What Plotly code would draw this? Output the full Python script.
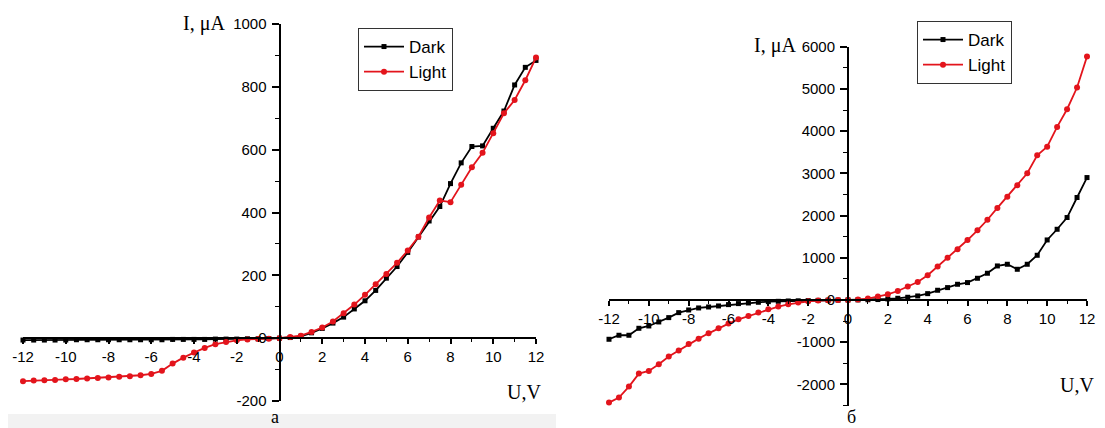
import plotly.graph_objects as go

# target picture size and the page's default body margin
W, H = 1105, 428
OFF = 8
FW, FH = W - 2 * OFF, H - OFF

# ---------------- data ----------------
voltage = [-12, -11.5, -11, -10.5, -10, -9.5, -9, -8.5, -8, -7.5, -7, -6.5, -6, -5.5, -5, -4.5,
           -4, -3.5, -3, -2.5, -2, -1.5, -1, -0.5, 0, 0.5, 1, 1.5, 2, 2.5, 3, 3.5, 4, 4.5,
           5, 5.5, 6, 6.5, 7, 7.5, 8, 8.5, 9, 9.5, 10, 10.5, 11, 11.5, 12]

a_dark = [-6, -6, -6, -6, -6, -5, -5, -5, -5, -5, -5, -5, -5, -5, -4, -4,
          -4, -4, -3, -3, -3, -2, -2, -1, 0, 2, 6, 17, 31, 48, 67, 93, 119, 152,
          191, 228, 273, 322, 373, 419, 492, 558, 610, 612, 668, 723, 806, 862, 884]
a_light = [-137, -135, -134, -133, -131, -130, -128, -127, -125, -123, -121, -118, -114, -104, -81, -62,
           -46, -31, -19, -12, -7, -4, -3, -2, 0, 4, 8, 20, 34, 53, 79, 107, 138, 172,
           204, 240, 279, 323, 384, 438, 433, 488, 544, 590, 652, 716, 758, 821, 893]

b_dark = [-931, -836, -836, -671, -616, -521, -418, -300, -237, -189, -166, -142, -110, -86, -71, -55,
          -39, -32, -24, -20, -15, -10, -6, -3, 0, 2, 5, 10, 25, 40, 64, 95, 150, 230,
          293, 372, 412, 514, 633, 806, 846, 727, 846, 1059, 1422, 1675, 1953, 2427, 2900]
b_light = [-2431, -2313, -2052, -1744, -1682, -1524, -1341, -1200, -1042, -916, -790, -671, -560, -458, -379, -299,
           -221, -157, -102, -62, -31, -15, -8, -3, 0, 10, 33, 80, 135, 213, 317, 427, 585, 790,
           1000, 1200, 1420, 1650, 1900, 2180, 2445, 2718, 3002, 3429, 3630, 4100, 4519, 5033, 5768]

x_ticks = [-12, -10, -8, -6, -4, -2, 0, 2, 4, 6, 8, 10, 12]
x_ticktext = ["-12", "-10", "-8", "-6", "-4", "-2", "0", "2", "4", "6", "8", "10", "12"]
a_yticks = [-200, 0, 200, 400, 600, 800, 1000]
a_yticktext = ["-200", "0", "200", "400", "600", "800", "1000"]
b_yticks = [-2000, -1000, 0, 1000, 2000, 3000, 4000, 5000, 6000]
b_yticktext = ["-2000", "-1000", "0", "1000", "2000", "3000", "4000", "5000", "6000"]

series_names = ["Dark", "Light"]
y_title = "I, μA"
x_title = "U,V"
captions = ["а", "б"]

# ---------------- layout helpers ----------------
RED = "#e3141c"
BLACK = "#000000"
SANS = "Liberation Sans, Arial, sans-serif"
SERIF = "Liberation Serif, Times New Roman, serif"


def px_x(p):
    return (p - OFF) / FW


def px_y(p):
    return 1 - (p - OFF) / FH


# panel geometry in page pixels (left, right / top, bottom) and ranges
panels = [
    dict(xd=(23, 536), yd=(24, 401), xr=(-12, 12), yr=(-200, 1000),
         yt=a_yticks, ytt=a_yticktext, ydm=100, dark=a_dark, light=a_light, leg=(358, 28)),
    dict(xd=(609, 1087), yd=(46.7, 405.5), xr=(-12, 12), yr=(-2500, 6000),
         yt=b_yticks, ytt=b_yticktext, ydm=500, dark=b_dark, light=b_light, leg=(917, 21)),
]

fig = go.Figure()
layout = dict(width=FW, height=FH, autosize=False, margin=dict(l=0, r=0, t=0, b=0, pad=0),
              paper_bgcolor="white", plot_bgcolor="rgba(0,0,0,0)", showlegend=True,
              template="none")

for i, p in enumerate(panels):
    n = "" if i == 0 else str(i + 1)
    xdom = [px_x(p["xd"][0]), px_x(p["xd"][1])]
    ydom = [px_y(p["yd"][1]), px_y(p["yd"][0])]
    # where the zero lines lie (axes cross at origin)
    xpos = xdom[0] + (0 - p["xr"][0]) / (p["xr"][1] - p["xr"][0]) * (xdom[1] - xdom[0])
    ypos = ydom[0] + (0 - p["yr"][0]) / (p["yr"][1] - p["yr"][0]) * (ydom[1] - ydom[0])
    leg = "legend" + n
    fig.add_trace(go.Scatter(x=voltage, y=p["dark"], name=series_names[0], mode="lines+markers",
                             line=dict(color=BLACK, width=1.8),
                             marker=dict(symbol="square", size=5, color=BLACK),
                             xaxis="x" + n, yaxis="y" + n, legend=leg, cliponaxis=False))
    fig.add_trace(go.Scatter(x=voltage, y=p["light"], name=series_names[1], mode="lines+markers",
                             line=dict(color=RED, width=1.8),
                             marker=dict(symbol="circle", size=6, color=RED),
                             xaxis="x" + n, yaxis="y" + n, legend=leg, cliponaxis=False))
    layout["xaxis" + n] = dict(domain=xdom, range=list(p["xr"]), anchor="free", position=ypos,
                               side="bottom", showline=True, linecolor=BLACK, linewidth=2,
                               showgrid=False, zeroline=False, ticks="outside", ticklen=5,
                               tickwidth=1.5, tickcolor=BLACK, tickvals=x_ticks, ticktext=x_ticktext,
                               tickfont=dict(family=SANS, size=15, color=BLACK),
                               minor=dict(dtick=1, tick0=0, ticks="outside", ticklen=3,
                                          tickwidth=1.2, tickcolor=BLACK, showgrid=False),
                               fixedrange=True, ticklabelstandoff=0, automargin=False,
                               ticklabeloverflow="allow")
    layout["yaxis" + n] = dict(domain=ydom, range=list(p["yr"]), anchor="free", position=xpos,
                               side="left", showline=True, linecolor=BLACK, linewidth=2,
                               showgrid=False, zeroline=False, ticks="outside", ticklen=7,
                               tickwidth=1.5, tickcolor=BLACK, tickvals=p["yt"], ticktext=p["ytt"],
                               tickfont=dict(family=SANS, size=15, color=BLACK),
                               minor=dict(dtick=p["ydm"], tick0=0, ticks="outside", ticklen=4,
                                          tickwidth=1.2, tickcolor=BLACK, showgrid=False),
                               fixedrange=True, ticklabelstandoff=2, automargin=False,
                               ticklabeloverflow="allow")
    layout[leg] = dict(x=px_x(p["leg"][0]), y=px_y(p["leg"][1]), xanchor="left", yanchor="top",
                       bgcolor="white", bordercolor="#333333", borderwidth=1,
                       font=dict(family=SANS, size=17, color=BLACK),
                       itemwidth=40, tracegroupgap=0)

fig.update_layout(**layout)

annotations = [
    dict(text=y_title, x=px_x(227), y=px_y(24), xanchor="right", yanchor="middle"),
    dict(text=y_title, x=px_x(798), y=px_y(45), xanchor="right", yanchor="middle"),
    dict(text=x_title, x=px_x(543), y=px_y(392), xanchor="right", yanchor="middle"),
    dict(text=x_title, x=px_x(1096), y=px_y(385), xanchor="right", yanchor="middle"),
    dict(text=captions[0], x=px_x(275), y=px_y(417), xanchor="center", yanchor="middle", size=18),
    dict(text=captions[1], x=px_x(851), y=px_y(417), xanchor="center", yanchor="middle", size=18),
]
for a in annotations:
    size = a.pop("size", 20)
    fig.add_annotation(xref="paper", yref="paper", showarrow=False,
                       font=dict(family=SERIF, size=size, color=BLACK), **a)

# light grey band at the bottom of the left figure (scan background)
fig.add_shape(type="rect", xref="paper", yref="paper", x0=px_x(8), x1=px_x(556),
              y0=0, y1=px_y(414), fillcolor="#f2f2f2", line=dict(width=0), layer="below")

fig.write_html("out.html")
